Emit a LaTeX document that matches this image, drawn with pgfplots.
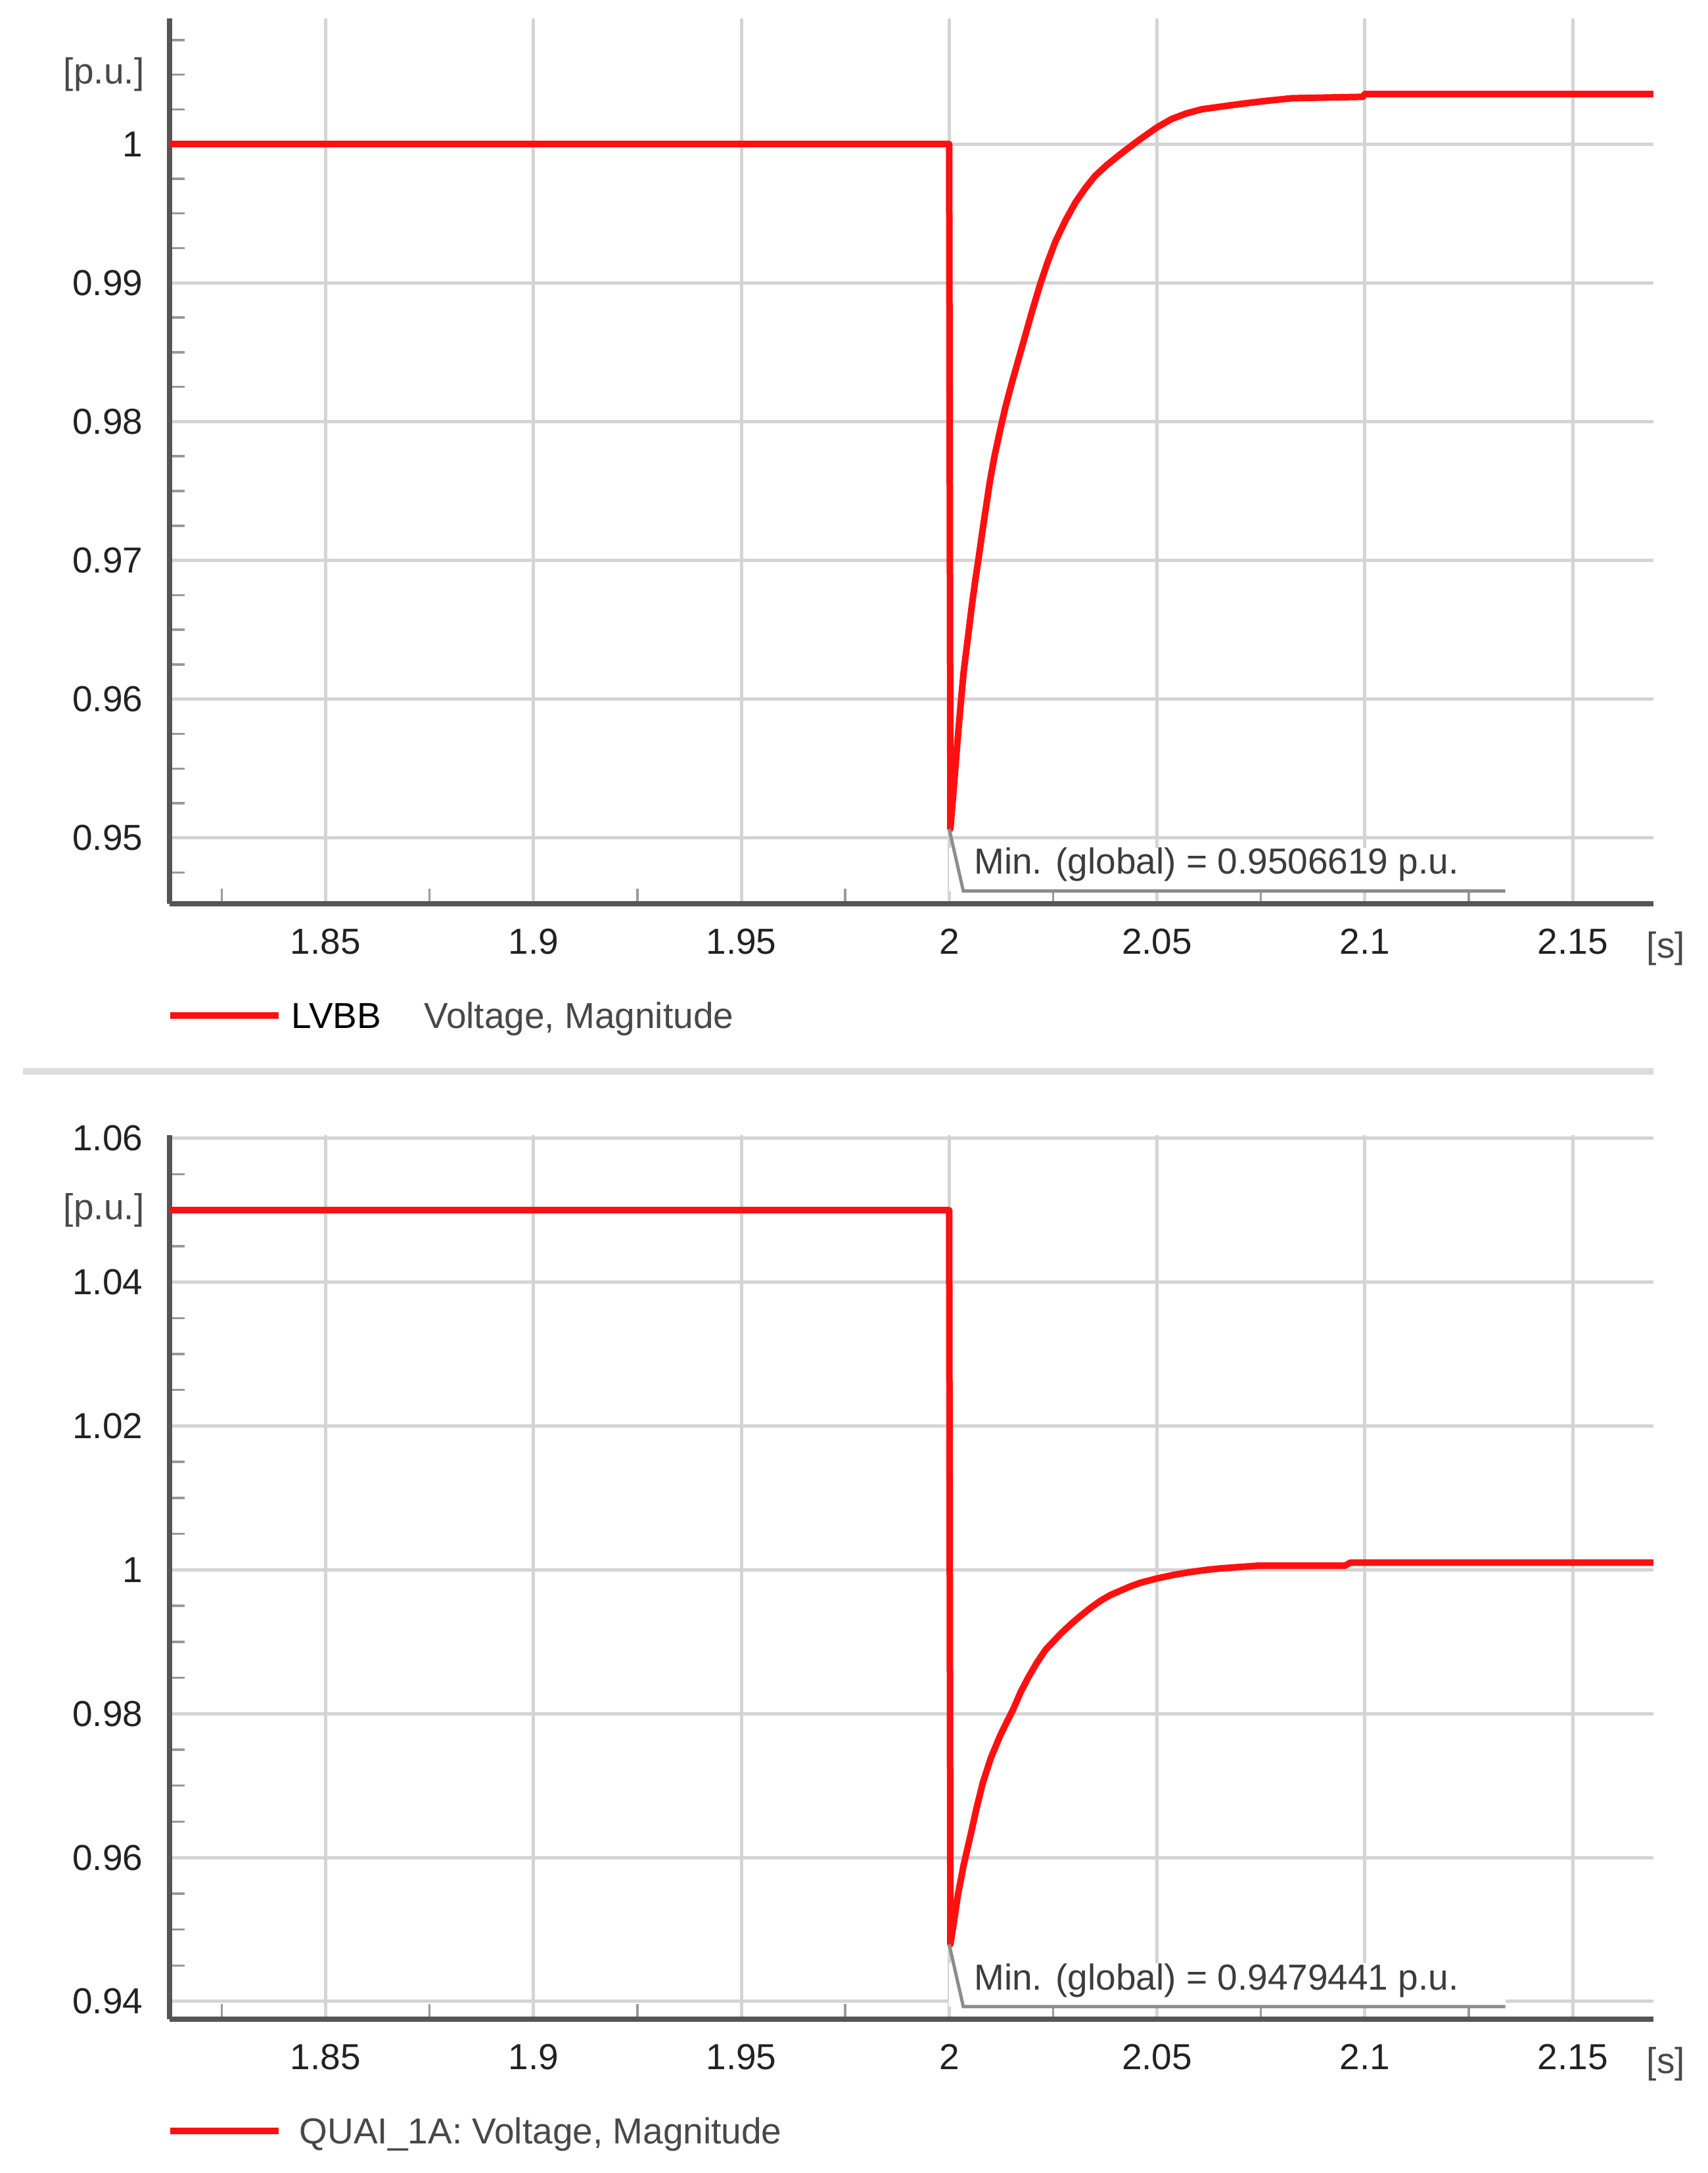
\documentclass[border=0pt]{standalone}
\usepackage{fontspec}
\setmainfont{Liberation Sans}
\usepackage{pgfplots}
\pgfplotsset{compat=1.18}
\definecolor{gridc}{HTML}{D4D4D4}
\definecolor{axc}{HTML}{555555}
\definecolor{txt}{HTML}{222222}
\definecolor{annc}{HTML}{3C3C3C}
\definecolor{leadc}{HTML}{8C8C8C}
\definecolor{sepc}{HTML}{DCDCDC}
\definecolor{legc}{HTML}{484848}
\definecolor{vred}{HTML}{FF1010}
\newcommand{\lbl}{\fontsize{11}{13}\selectfont}
\pgfplotsset{
 vstyle/.style={
  scale only axis, width=451.5pt, anchor=south west,
  axis lines*=left,
  axis line style={axc, line width=1.6pt},
  xmin=1.8125, xmax=2.1694,
  xtick={1.85,1.9,1.95,2,2.05,2.1,2.15},
  xticklabels={1.85,1.9,1.95,2,2.05,2.1,2.15},
  minor xtick={1.825,1.875,1.925,1.975,2.025,2.075,2.125},
  grid=major,
  major grid style={gridc, line width=1pt},
  major tick length=0pt,
  minor tick length=4.5pt,
  tick align=inside,
  minor tick style={black!40, line width=0.7pt},
  tick label style={font=\lbl, text=txt},
  xticklabel style={anchor=north, inner sep=0pt, yshift=-7.4pt},
  yticklabel style={anchor=east, inner sep=0pt, xshift=-8pt},
  clip=false,
  legend cell align=left,
  legend style={at={(rel axis cs:0,0)}, anchor=west, xshift=-0.9pt, yshift=-34pt,
    draw=none, fill=none, inner sep=0pt, outer sep=0pt, column sep=5.4pt,
    nodes={inner sep=0pt, text depth=0pt, font=\lbl}},
  legend image code/.code={\draw[#1, line width=2pt] (0pt,0pt) -- (33pt,0pt);},
 }
}
\begin{document}
\begin{tikzpicture}
\useasboundingbox (0,0) rectangle (519.6pt,661.2pt);
\draw[sepc, line width=2pt] (7pt,335.2pt) -- (503.2pt,335.2pt);
% ---------------- top axis ----------------
\begin{axis}[vstyle, at={(51.66pt,386.2pt)}, height=269.3pt,
  ymin=0.94526, ymax=1.00903,
  ytick={0.95,0.96,0.97,0.98,0.99,1},
  yticklabels={0.95,0.96,0.97,0.98,0.99,1},
  minor ytick={0.9475,0.9525,0.955,0.9575,0.9625,0.965,0.9675,0.9725,0.975,0.9775,0.9825,0.985,0.9875,0.9925,0.995,0.9975,1.0025,1.005,1.0075},
  legend style={column sep=3pt},
]
\addplot[vred, line width=2pt, line join=round] coordinates {
(1.8125,1.0) (2.0,1.0) (2.0003,0.9506619) (2.0010,0.9532) (2.0019,0.9566)
(2.0027,0.9594) (2.0035,0.9620) (2.0045,0.9644) (2.0054,0.9666) (2.0063,0.9686)
(2.0072,0.9704) (2.0080,0.9721) (2.0088,0.9737) (2.0098,0.9757) (2.0109,0.9775)
(2.0122,0.9793) (2.0135,0.9810) (2.0150,0.9827) (2.0165,0.9843) (2.0183,0.9862)
(2.0200,0.9880) (2.0219,0.9899) (2.0237,0.9915) (2.0256,0.9930) (2.0280,0.9945)
(2.0304,0.9958) (2.0327,0.9968) (2.0351,0.9977) (2.0380,0.9985) (2.0409,0.9992)
(2.0435,0.9998) (2.0462,1.0004) (2.0500,1.0012) (2.0535,1.0018) (2.0570,1.0022)
(2.0607,1.0025) (2.0655,1.0027) (2.0704,1.0029) (2.0760,1.0031) (2.0825,1.0033)
(2.0995,1.0034) (2.1,1.0036) (2.1694,1.0036)};
\addlegendentry{LVBB\hspace{13pt}\textcolor{legc}{Voltage, Magnitude}}
\fill[white] (axis cs:2.0,0.94618) rectangle (axis cs:2.1338,0.9493);
\draw[leadc, line width=1pt] (axis cs:2.0,0.9506619) -- (axis cs:2.0034,0.94618) -- (axis cs:2.1338,0.94618);
\node[anchor=west, inner sep=0pt, text=annc, font=\lbl] at (axis cs:2.00585,0.94809) {Min. (global) = 0.9506619 p.u.};
\node[anchor=east, inner sep=0pt, text=legc, font=\lbl, xshift=-7.6pt] at (axis cs:1.8125,1.005) {[p.u.]};
\node[anchor=north west, inner sep=0pt, text=legc, font=\lbl, xshift=-2.2pt, yshift=-8.4pt] at (rel axis cs:1,0) {[s]};
\end{axis}
% ---------------- bottom axis ----------------
\begin{axis}[vstyle, at={(51.66pt,46.86pt)}, height=269pt,
  ymin=0.93756, ymax=1.06046,
  ytick={0.94,0.96,0.98,1,1.02,1.04,1.06},
  yticklabels={0.94,0.96,0.98,1,1.02,1.04,1.06},
  minor ytick={0.945,0.95,0.955,0.965,0.97,0.975,0.985,0.99,0.995,1.005,1.01,1.015,1.025,1.03,1.035,1.045,1.05,1.055},
]
\addplot[vred, line width=2pt, line join=round] coordinates {
(1.8125,1.05) (2.0,1.05) (2.0003,0.9479441) (2.0010,0.9505) (2.0021,0.9548)
(2.0035,0.9590) (2.0051,0.9630) (2.0066,0.9669) (2.0081,0.9704) (2.0100,0.9738)
(2.0123,0.9770) (2.0140,0.9790) (2.0154,0.9806) (2.0172,0.9830) (2.0190,0.9850)
(2.0210,0.9870) (2.0232,0.9889) (2.0250,0.9900) (2.0268,0.9911) (2.0292,0.9924)
(2.0316,0.9936) (2.0340,0.9947) (2.0364,0.9957) (2.0388,0.9965) (2.0412,0.9971)
(2.0436,0.9977) (2.0460,0.9982) (2.0500,0.9988) (2.0540,0.9993) (2.0581,0.9997)
(2.0620,1.0000) (2.0653,1.0002) (2.0700,1.0004) (2.0749,1.0006) (2.0953,1.0006)
(2.0965,1.0010) (2.1694,1.0010)};
\addlegendentry{\textcolor{legc}{QUAI\_1A: Voltage, Magnitude}}
\fill[white] (axis cs:2.0,0.93929) rectangle (axis cs:2.1338,0.9453);
\draw[leadc, line width=1pt] (axis cs:2.0,0.9479441) -- (axis cs:2.0034,0.93929) -- (axis cs:2.1338,0.93929);
\node[anchor=west, inner sep=0pt, text=annc, font=\lbl] at (axis cs:2.00585,0.9429) {Min. (global) = 0.9479441 p.u.};
\node[anchor=east, inner sep=0pt, text=legc, font=\lbl, xshift=-7.6pt] at (axis cs:1.8125,1.05) {[p.u.]};
\node[anchor=north west, inner sep=0pt, text=legc, font=\lbl, xshift=-2.2pt, yshift=-8.4pt] at (rel axis cs:1,0) {[s]};
\end{axis}
\end{tikzpicture}
\end{document}
